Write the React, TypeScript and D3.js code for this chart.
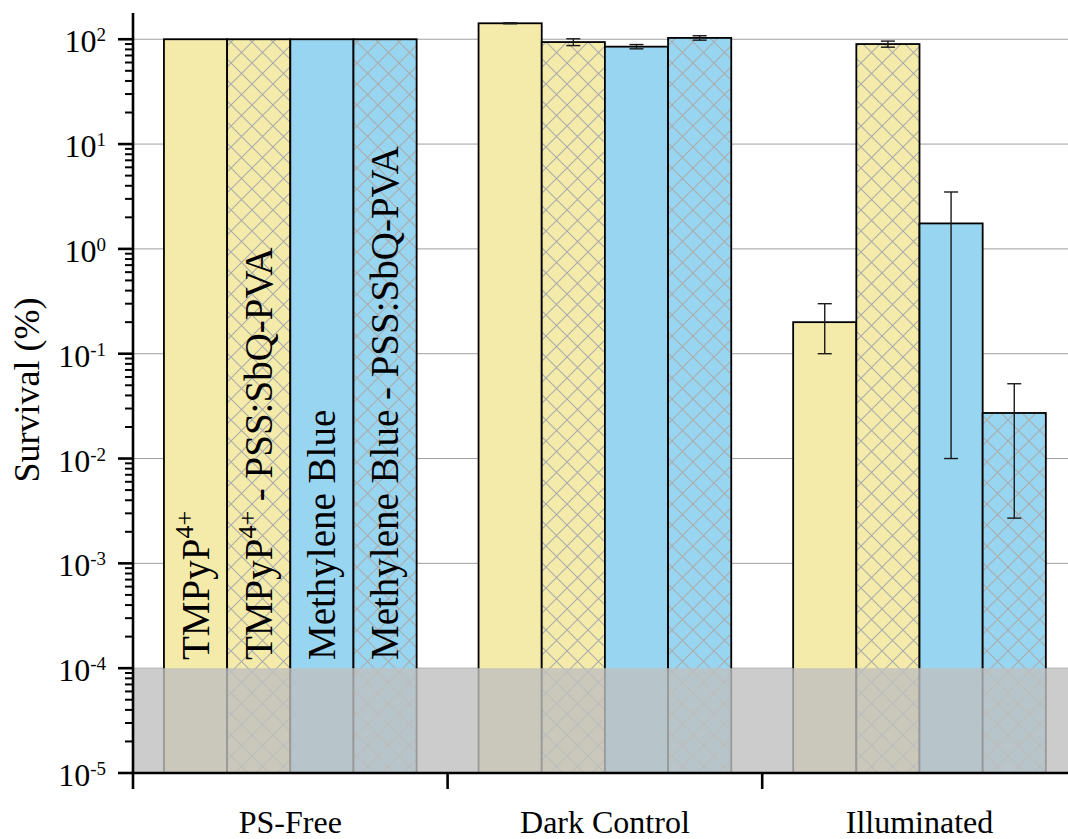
import React from "react";
import * as d3 from "d3";

// Survival of bacteria under three treatment conditions (log scale)
const groups = ["PS-Free", "Dark Control", "Illuminated"];
const seriesKeys = ["tmpyp", "tmpypFilm", "mb", "mbFilm"];

const psFreeValues = [100, 100, 100, 100];
const psFreeErrors = [0, 0, 0, 0];
const darkControlValues = [142, 94, 85, 103];
const darkControlErrors = [1.5, 7, 4, 5];
const illuminatedValues = [0.2, 90, 1.75, 0.0272];
const illuminatedErrors = [0.1, 6, 1.74, 0.0245];

const yTickExponents = [2, 1, 0, -1, -2, -3, -4, -5];
const detectionLimit = 1e-4;

// Series names written inside the PS-Free bars: [main text, superscript, trailing text]
const seriesLabels: [string, string, string][] = [
  ["TMPyP", "4+", ""],
  ["TMPyP", "4+", " - PSS:SbQ-PVA"],
  ["Methylene Blue", "", ""],
  ["Methylene Blue - PSS:SbQ-PVA", "", ""],
];

const seriesFill = ["#F4EBAA", "#F4EBAA", "#98D5F0", "#98D5F0"];
const seriesHatched = [false, true, false, true];

const FONT = "'Liberation Serif', 'Times New Roman', Times, serif";
const W = 1068;
const H = 839;

export default function App() {
  const plotLeft = 133;
  const plotBottom = 773;
  const plotTop = 13;
  const groupStep = 314.6;

  const x0 = d3
    .scaleBand<string>()
    .domain(groups)
    .range([plotLeft, plotLeft + groupStep * groups.length])
    .padding(0);
  const x1 = d3
    .scaleBand<string>()
    .domain(seriesKeys)
    .range([0, x0.bandwidth()])
    .paddingInner(0)
    .paddingOuter(0.49);
  const y = d3.scaleLog().domain([1e-5, 178]).range([plotBottom, plotTop]);

  const table = [
    { group: groups[0], values: psFreeValues, errors: psFreeErrors },
    { group: groups[1], values: darkControlValues, errors: darkControlErrors },
    { group: groups[2], values: illuminatedValues, errors: illuminatedErrors },
  ];

  const majorTicks = yTickExponents.map((e) => Math.pow(10, e));
  const minorTicks: number[] = [];
  for (let e = -5; e <= 2; e++) {
    for (let m = 2; m <= 9; m++) {
      const v = m * Math.pow(10, e);
      if (v < y.domain()[1]) minorTicks.push(v);
    }
  }

  const bw = x1.bandwidth();
  const capHalf = 7;

  return (
    <svg
      width={W}
      height={H}
      style={{ position: "absolute", left: 0, top: 0, background: "#fff" }}
      fontFamily={FONT}
    >
      <defs>
        <pattern id="crosshatch" patternUnits="userSpaceOnUse" width={21} height={21}>
          <path
            d="M-5,-5 L26,26 M26,-5 L-5,26"
            stroke="#ABABAB"
            strokeWidth={1.1}
            fill="none"
          />
        </pattern>
      </defs>

      {/* decade grid lines */}
      {majorTicks.map((t) => (
        <line
          key={"g" + t}
          x1={plotLeft}
          x2={W}
          y1={y(t)}
          y2={y(t)}
          stroke="#A0A0A0"
          strokeWidth={1}
        />
      ))}

      {/* bars */}
      {table.map((row) =>
        row.values.map((v, i) => {
          const bx = (x0(row.group) as number) + (x1(seriesKeys[i]) as number);
          const top = y(v);
          return (
            <g key={row.group + i}>
              <rect x={bx} y={top} width={bw} height={plotBottom - top} fill={seriesFill[i]} />
              {seriesHatched[i] && (
                <rect x={bx} y={top} width={bw} height={plotBottom - top} fill="url(#crosshatch)" />
              )}
              <rect
                x={bx}
                y={top}
                width={bw}
                height={plotBottom - top}
                fill="none"
                stroke="#000"
                strokeWidth={1.8}
              />
            </g>
          );
        })
      )}

      {/* error bars */}
      {table.map((row) =>
        row.values.map((v, i) => {
          const e = row.errors[i];
          if (!e) return null;
          const cx = (x0(row.group) as number) + (x1(seriesKeys[i]) as number) + bw / 2;
          const hi = y(v + e);
          const lo = y(Math.max(v - e, 1e-5));
          return (
            <g key={"e" + row.group + i} stroke="#1a1a1a" strokeWidth={1.4}>
              <line x1={cx} x2={cx} y1={hi} y2={lo} />
              <line x1={cx - capHalf} x2={cx + capHalf} y1={hi} y2={hi} />
              <line x1={cx - capHalf} x2={cx + capHalf} y1={lo} y2={lo} />
            </g>
          );
        })
      )}

      {/* series names inside the PS-Free bars */}
      {seriesLabels.map((lab, i) => {
        const cx = (x0(groups[0]) as number) + (x1(seriesKeys[i]) as number) + bw / 2;
        return (
          <text
            key={"l" + i}
            transform={`translate(${cx + 13},660) rotate(-90)`}
            fontSize={39}
            fill="#000"
          >
            <tspan>{lab[0]}</tspan>
            {lab[1] && (
              <tspan fontSize={26} dy={-16}>
                {lab[1]}
              </tspan>
            )}
            {lab[2] && <tspan dy={16}>{lab[2]}</tspan>}
          </text>
        );
      })}

      {/* region below the detection limit */}
      <rect
        x={plotLeft}
        y={y(detectionLimit)}
        width={W - plotLeft}
        height={plotBottom - y(detectionLimit)}
        fill="rgb(191,191,191)"
        fillOpacity={0.8}
      />

      {/* y axis */}
      <line x1={plotLeft} x2={plotLeft} y1={plotTop} y2={plotBottom + 1} stroke="#000" strokeWidth={2.6} />
      {majorTicks.map((t) => (
        <line
          key={"mt" + t}
          x1={plotLeft - 15}
          x2={plotLeft}
          y1={y(t)}
          y2={y(t)}
          stroke="#000"
          strokeWidth={2.6}
        />
      ))}
      {minorTicks.map((t) => (
        <line
          key={"mn" + t}
          x1={plotLeft - 8}
          x2={plotLeft}
          y1={y(t)}
          y2={y(t)}
          stroke="#000"
          strokeWidth={2}
        />
      ))}
      {yTickExponents.map((e) => (
        <text
          key={"tl" + e}
          x={106}
          y={y(Math.pow(10, e)) + 13}
          textAnchor="end"
          fontSize={32}
          fill="#000"
        >
          <tspan>10</tspan>
          <tspan fontSize={19} dy={-11}>
            {String(e)}
          </tspan>
        </text>
      ))}
      <text
        transform={`translate(39,390) rotate(-90)`}
        textAnchor="middle"
        fontSize={36}
        fill="#000"
      >
        Survival (%)
      </text>

      {/* x axis */}
      <line x1={plotLeft - 1.3} x2={W} y1={plotBottom} y2={plotBottom} stroke="#000" strokeWidth={2.6} />
      {groups.map((g) => (
        <line
          key={"xt" + g}
          x1={x0(g) as number}
          x2={x0(g) as number}
          y1={plotBottom}
          y2={plotBottom + 16}
          stroke="#000"
          strokeWidth={2.6}
        />
      ))}
      {groups.map((g) => (
        <text
          key={"xl" + g}
          x={(x0(g) as number) + x0.bandwidth() / 2}
          y={833}
          textAnchor="middle"
          fontSize={32}
          fill="#000"
        >
          {g}
        </text>
      ))}
    </svg>
  );
}
